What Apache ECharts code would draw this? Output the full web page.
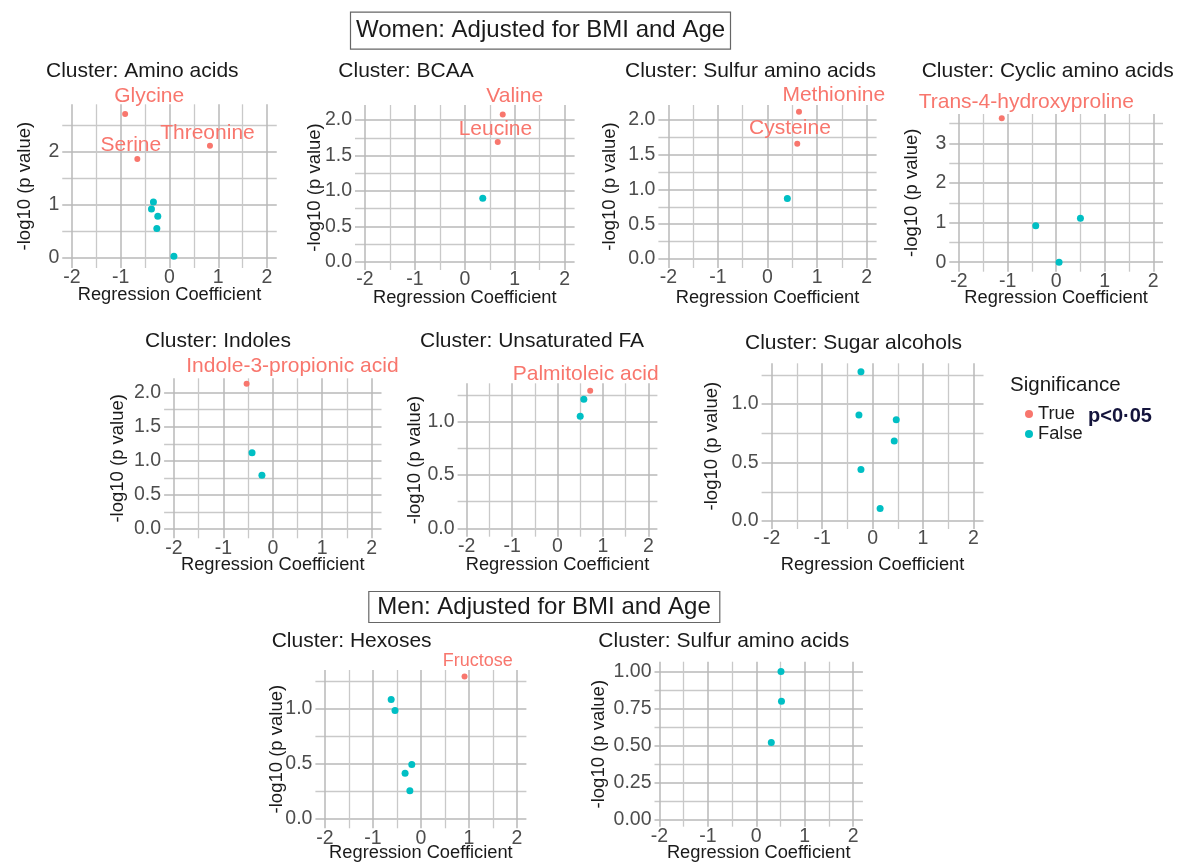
<!DOCTYPE html>
<html>
<head>
<meta charset="utf-8">
<script src="https://cdn.jsdelivr.net/npm/echarts@6/dist/echarts.min.js"></script>
<style>
html,body{margin:0;padding:0;background:#ffffff;}
#chart{width:1181px;height:862px;}
</style>
</head>
<body>
<div id="chart"></div>
<script>
// ---------------- DATA ----------------
const clusterTitles = [
  'Cluster: Amino acids', 'Cluster: BCAA', 'Cluster: Sulfur amino acids', 'Cluster: Cyclic amino acids',
  'Cluster: Indoles', 'Cluster: Unsaturated FA', 'Cluster: Sugar alcohols',
  'Cluster: Hexoses', 'Cluster: Sulfur amino acids'
];
const xTicks = [-2, -1, 0, 1, 2];

// Women: Amino acids
const aaLabel = ['Glycine', 'Threonine', 'Serine', '', '', '', '', ''];
const aaCoef  = [-0.91, 0.83, -0.66, -0.33, -0.37, -0.24, -0.26, 0.09];
const aaLogP  = [2.71, 2.11, 1.86, 1.05, 0.92, 0.78, 0.55, 0.03];
const aaSig   = [true, true, true, false, false, false, false, false];

// Women: BCAA
const bcLabel = ['Valine', 'Leucine', ''];
const bcCoef  = [0.76, 0.66, 0.36];
const bcLogP  = [2.08, 1.69, 0.895];
const bcSig   = [true, true, false];

// Women: Sulfur amino acids
const swLabel = ['Methionine', 'Cysteine', ''];
const swCoef  = [0.635, 0.60, 0.40];
const swLogP  = [2.12, 1.66, 0.87];
const swSig   = [true, true, false];

// Women: Cyclic amino acids
const cyLabel = ['Trans-4-hydroxyproline', '', '', ''];
const cyCoef  = [-1.12, -0.42, 0.50, 0.06];
const cyLogP  = [3.63, 0.92, 1.11, 0.0];
const cySig   = [true, false, false, false];

// Women: Indoles
const inLabel = ['Indole-3-propionic acid', '', ''];
const inCoef  = [-0.53, -0.42, -0.22];
const inLogP  = [2.13, 1.12, 0.79];
const inSig   = [true, false, false];

// Women: Unsaturated FA
const faLabel = ['Palmitoleic acid', '', ''];
const faCoef  = [0.72, 0.58, 0.50];
const faLogP  = [1.29, 1.21, 1.05];
const faSig   = [true, false, false];

// Women: Sugar alcohols
const saLabel = ['', '', '', '', '', ''];
const saCoef  = [-0.23, -0.27, 0.47, 0.43, -0.23, 0.15];
const saLogP  = [1.276, 0.906, 0.866, 0.684, 0.44, 0.108];
const saSig   = [false, false, false, false, false, false];

// Men: Hexoses
const hxLabel = ['Fructose', '', '', '', '', ''];
const hxCoef  = [0.91, -0.62, -0.54, -0.19, -0.33, -0.23];
const hxLogP  = [1.29, 1.08, 0.98, 0.49, 0.41, 0.25];
const hxSig   = [true, false, false, false, false, false];

// Men: Sulfur amino acids
const smLabel = ['', '', ''];
const smCoef  = [0.51, 0.52, 0.31];
const smLogP  = [1.0, 0.80, 0.52];
const smSig   = [false, false, false];

// ---------------- STYLE / LAYOUT ----------------
const FONT = "'Liberation Sans', Arial, Helvetica, sans-serif";
const RED = '#F8766D';
const BLUE = '#00BFC4';
const MAJOR = '#b8b8b8';
const MINOR = '#c9c9c9';

// offsets of repelled text labels relative to their point (pixels)
const labelOffsets = {
  'Glycine': [24, -17.6], 'Threonine': [-2.5, -12.7], 'Serine': [-6.5, -14.3],
  'Valine': [12, -18.6], 'Leucine': [-2.3, -12.7],
  'Methionine': [34.8, -16], 'Cysteine': [-7.3, -15],
  'Trans-4-hydroxyproline': [24.5, -16],
  'Indole-3-propionic acid': [45.8, -17.3],
  'Palmitoleic acid': [-4.5, -16.7],
  'Fructose': [13.2, -15]
};
const labelSizes = { 'Fructose': 18 };

const panelData = [
  [aaLabel, aaCoef, aaLogP, aaSig], [bcLabel, bcCoef, bcLogP, bcSig], [swLabel, swCoef, swLogP, swSig],
  [cyLabel, cyCoef, cyLogP, cySig], [inLabel, inCoef, inLogP, inSig], [faLabel, faCoef, faLogP, faSig],
  [saLabel, saCoef, saLogP, saSig], [hxLabel, hxCoef, hxLogP, hxSig], [smLabel, smCoef, smLogP, smSig]
];

// grid pixel boxes, axis ranges, label decimals, title positions, name distances
const layout = [
  {L:62.25, R:276.75, T:104.3, B:268,   xr:[-2.2,2.2], yr:[-0.194,2.894], yi:1,   dec:0, tx:46,    ty:71.7,  yd:37.3, xd:27},
  {L:355,   R:574.6,  T:105,   B:270,   xr:[-2.2,2.2], yr:[-0.117,2.213], yi:0.5, dec:1, tx:338.3, ty:71,    yd:40,   xd:28.3},
  {L:658.4, R:876.6,  T:105,   B:268,   xr:[-2.2,2.2], yr:[-0.13,2.216],  yi:0.5, dec:1, tx:625,   ty:71,    yd:48.4, xd:30},
  {L:949.3, R:1163,   T:114,   B:271.7, xr:[-2.2,2.2], yr:[-0.24,3.74],   yi:1,   dec:0, tx:921.7, ty:71,    yd:37.6, xd:26.6},
  {L:164.1, R:381.5,  T:378.3, B:538.3, xr:[-2.2,2.2], yr:[-0.136,2.21],  yi:0.5, dec:1, tx:145,   ty:341.7, yd:45.8, xd:26.7},
  {L:457.6, R:657.4,  T:383.3, B:536.7, xr:[-2.2,2.2], yr:[-0.079,1.36],  yi:0.5, dec:1, tx:420,   ty:341.7, yd:42.6, xd:28.3},
  {L:761.6, R:983.5,  T:363.3, B:529,   xr:[-2.2,2.2], yr:[-0.068,1.348], yi:0.5, dec:1, tx:745,   ty:343.3, yd:50,   xd:36},
  {L:315.4, R:526.4,  T:670,   B:828.3, xr:[-2.2,2.2], yr:[-0.09,1.348],  yi:0.5, dec:1, tx:271.7, ty:641.7, yd:38.7, xd:25},
  {L:654.5, R:862.9,  T:661.7, B:826.7, xr:[-2.1,2.2], yr:[-0.05,1.067],  yi:0.25,dec:2, tx:598.3, ty:641.7, yd:56,   xd:26.6}
];

const TITLE_FS = 21;
const grids = [], xAxes = [], yAxes = [], series = [], titles = [];

titles.push({
  text: 'Women: Adjusted for BMI and Age', left: 350, top: 11.7,
  padding: [6, 6], borderColor: '#666', borderWidth: 1.2,
  textStyle: {fontFamily: FONT, fontSize: 24, fontWeight: 'normal', color: '#1a1a1a', lineHeight: 26}
});
titles.push({
  text: 'Men: Adjusted for BMI and Age', left: 368.3, top: 591,
  padding: [3, 9], borderColor: '#666', borderWidth: 1.2,
  textStyle: {fontFamily: FONT, fontSize: 24, fontWeight: 'normal', color: '#1a1a1a', lineHeight: 26}
});
titles.push({
  text: 'Significance', left: 1010, top: 385 - 11, padding: 0,
  textStyle: {fontFamily: FONT, fontSize: 20.5, fontWeight: 'normal', color: '#1a1a1a', lineHeight: 22}
});
titles.push({
  text: 'p<0\u00B705', left: 1088, top: 416.7 - 11, padding: 0,
  textStyle: {fontFamily: FONT, fontSize: 20, fontWeight: 'bold', color: '#14143c', lineHeight: 22}
});

layout.forEach((g, i) => {
  titles.push({
    text: clusterTitles[i], left: g.tx, top: g.ty - (TITLE_FS + 2) / 2, padding: 0,
    textStyle: {fontFamily: FONT, fontSize: TITLE_FS, fontWeight: 'normal', color: '#1a1a1a', lineHeight: TITLE_FS + 2}
  });
  grids.push({left: g.L, top: g.T, width: g.R - g.L, height: g.B - g.T, containLabel: false, outerBoundsMode: 'none'});
  xAxes.push({
    type: 'value', gridIndex: i, min: g.xr[0], max: g.xr[1], minInterval: 1, maxInterval: 1,
    name: 'Regression Coefficient', nameLocation: 'middle', nameGap: g.xd - 9.5, nameMoveOverlap: false,
    nameTextStyle: {fontFamily: FONT, fontSize: 18.3, color: '#1a1a1a'},
    axisLine: {show: false, onZero: false}, axisTick: {show: false},
    axisLabel: {show: true, margin: 0, showMinLabel: false, showMaxLabel: false,
      fontFamily: FONT, fontSize: 19.5, color: '#4d4d4d',
      formatter: v => (xTicks.indexOf(Math.round(v * 1000) / 1000) >= 0 ? String(Math.round(v)) : '')},
    splitLine: {show: true, showMinLine: false, showMaxLine: false, lineStyle: {color: MAJOR, width: 1.5}},
    minorTick: {show: false, splitNumber: 2},
    minorSplitLine: {show: true, lineStyle: {color: MINOR, width: 1.3}}
  });
  yAxes.push({
    type: 'value', gridIndex: i, min: g.yr[0], max: g.yr[1], minInterval: g.yi, maxInterval: g.yi,
    name: '-log10 (p value)', nameLocation: 'middle', nameGap: g.yd - 9.5, nameRotate: 90, nameMoveOverlap: false,
    nameTextStyle: {fontFamily: FONT, fontSize: 18.5, color: '#1a1a1a'},
    axisLine: {show: false, onZero: false}, axisTick: {show: false},
    axisLabel: {show: true, margin: 3, showMinLabel: false, showMaxLabel: false,
      fontFamily: FONT, fontSize: 19.5, color: '#4d4d4d',
      formatter: v => v.toFixed(g.dec)},
    splitLine: {show: true, showMinLine: false, showMaxLine: false, lineStyle: {color: MAJOR, width: 1.5}},
    minorTick: {show: false, splitNumber: 2},
    minorSplitLine: {show: true, lineStyle: {color: MINOR, width: 1.3}}
  });

  const [labs, coef, logp, sig] = panelData[i];
  const trueData = [], falseData = [];
  coef.forEach((c, j) => {
    const item = {value: [c, logp[j]], name: labs[j]};
    if (labs[j]) {
      item.label = {show: true, offset: labelOffsets[labs[j]], fontSize: labelSizes[labs[j]] || 21};
    }
    (sig[j] ? trueData : falseData).push(item);
  });
  const baseLabel = {show: false, position: 'inside', formatter: '{b}', color: RED,
    fontFamily: FONT, fontSize: 21, align: 'center', verticalAlign: 'middle'};
  series.push({type: 'scatter', name: 'True', xAxisIndex: i, yAxisIndex: i, data: trueData,
    symbol: 'circle', symbolSize: 6, itemStyle: {color: RED, opacity: 1}, label: baseLabel,
    emphasis: {disabled: true}, z: 3});
  series.push({type: 'scatter', name: 'False', xAxisIndex: i, yAxisIndex: i, data: falseData,
    symbol: 'circle', symbolSize: 7, itemStyle: {color: BLUE, opacity: 1}, label: baseLabel,
    emphasis: {disabled: true}, z: 3});
});

const chart = echarts.init(document.getElementById('chart'), null, {renderer: 'canvas'});
chart.setOption({
  backgroundColor: '#ffffff',
  animation: false,
  title: titles,
  legend: {
    data: [{name: 'True'}, {name: 'False'}], orient: 'vertical', left: 1025, top: 405,
    padding: 0, itemGap: 2, itemWidth: 8, itemHeight: 8, icon: 'circle', selectedMode: false,
    textStyle: {fontFamily: FONT, fontSize: 18.3, color: '#1a1a1a', lineHeight: 18}
  },
  grid: grids, xAxis: xAxes, yAxis: yAxes, series: series
});
</script>
</body>
</html>
